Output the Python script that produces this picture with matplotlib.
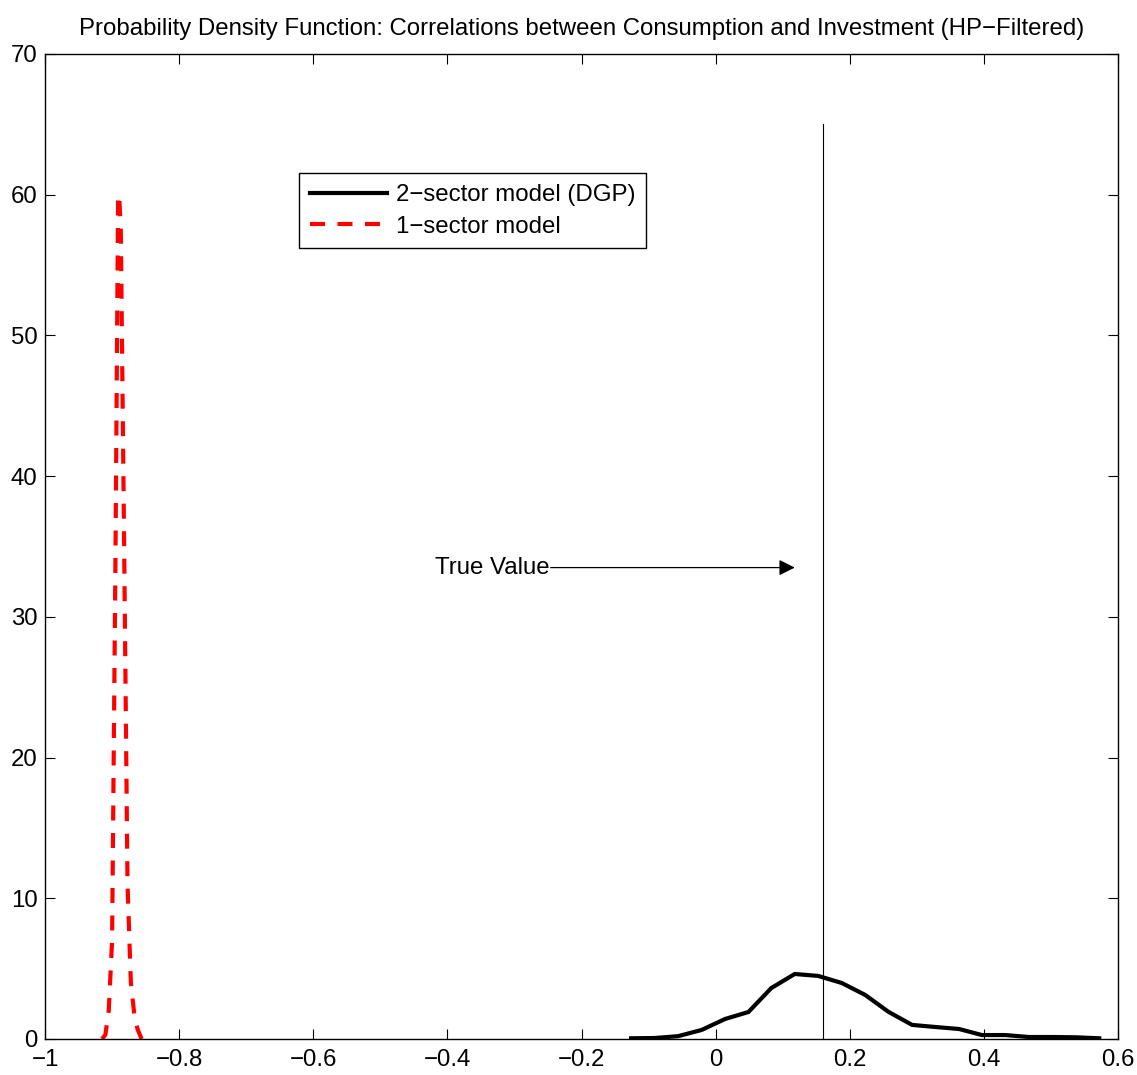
import matplotlib
matplotlib.use("Agg")
import matplotlib.pyplot as plt

plt.rcParams['font.family'] = ['Liberation Sans', 'DejaVu Sans']

# Data
two_sector_x = [-0.126, -0.091, -0.056, -0.021, 0.014, 0.049, 0.083, 0.118, 0.153, 0.188,
                0.223, 0.258, 0.293, 0.328, 0.363, 0.397, 0.432, 0.467, 0.502, 0.537, 0.572]
two_sector_y = [0.05, 0.07, 0.2, 0.64, 1.42, 1.92, 3.62, 4.62, 4.48, 3.98,
                3.13, 1.92, 1.0, 0.85, 0.71, 0.28, 0.28, 0.14, 0.14, 0.12, 0.05]

one_sector_x = [-0.915, -0.910, -0.905, -0.900, -0.895, -0.891, -0.889, -0.887,
                -0.882, -0.877, -0.872, -0.867, -0.862, -0.856]
one_sector_y = [0.0, 0.3, 2.0, 7.0, 34.0, 60.0, 59.5, 57.5, 35.0, 11.0, 4.0, 1.8, 0.7, 0.0]

true_value = 0.16
true_line_top = 65
arrow_y = 33.5
arrow_start_x = -0.246
arrow_end_x = 0.118
label_x = -0.418

xticks = [-1, -0.8, -0.6, -0.4, -0.2, 0, 0.2, 0.4, 0.6]
xticklabels = ['\u22121', '\u22120.8', '\u22120.6', '\u22120.4', '\u22120.2', '0', '0.2', '0.4', '0.6']
yticks = [0, 10, 20, 30, 40, 50, 60, 70]

title = 'Probability Density Function: Correlations between Consumption and Investment (HP\u2212Filtered)'
legend_labels = ['2\u2212sector model (DGP)', '1\u2212sector model']

FS = 17.3

fig = plt.figure(figsize=(11.37, 10.75), dpi=100)
ax = fig.add_axes([0.0396, 0.0335, 0.9437, 0.9163])

ax.plot(two_sector_x, two_sector_y, color='black', lw=3, label=legend_labels[0],
        solid_joinstyle='miter')
ax.plot(one_sector_x, one_sector_y, color='red', lw=3, dashes=(3.6, 3.0),
        label=legend_labels[1])

ax.plot([true_value, true_value], [0, true_line_top], color='black', lw=0.8)

ax.annotate('', xy=(arrow_end_x, arrow_y), xytext=(arrow_start_x, arrow_y),
            arrowprops=dict(arrowstyle='-|>', color='black', lw=0.9,
                            mutation_scale=24, shrinkA=0, shrinkB=0))
ax.text(label_x, arrow_y, 'True Value', fontsize=FS, va='center', ha='left')

ax.set_xlim(-1, 0.6)
ax.set_ylim(0, 70)
ax.set_xticks(xticks)
ax.set_xticklabels(xticklabels)
ax.set_yticks(yticks)
ax.tick_params(direction='in', length=7, width=0.8, top=True, right=True,
               labelsize=FS)
ax.tick_params(axis='x', pad=7.5)
ax.tick_params(axis='y', pad=5.5)
for s in ax.spines.values():
    s.set_linewidth(1.0)

ax.set_title(title, fontsize=FS, pad=14)

leg = ax.legend(loc='upper left', bbox_to_anchor=(0.237, 0.879), fontsize=FS,
                frameon=True, fancybox=False, edgecolor='black', framealpha=1,
                handlelength=3.2, handletextpad=0.38, borderpad=0.45,
                labelspacing=0.4, borderaxespad=0)
leg.get_frame().set_linewidth(1.0)

fig.savefig('out.png', dpi=100)
